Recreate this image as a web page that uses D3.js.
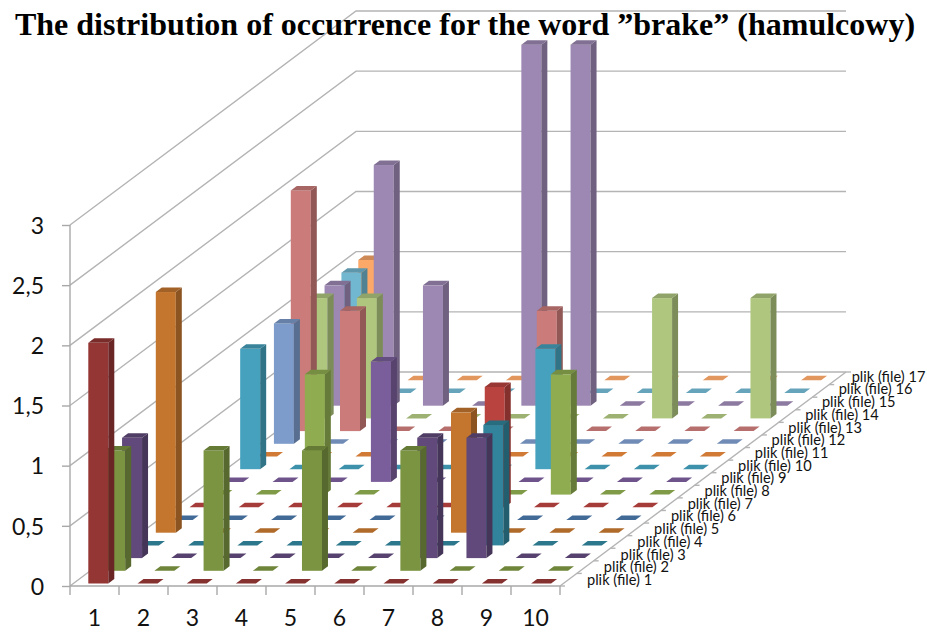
<!DOCTYPE html>
<html>
<head>
    <title>The distribution of occurrence for the word "brake"</title>
    <script src="https://d3js.org/d3.v7.min.js"></script>
    <style>
        body { margin: 0; background: #fff; }
        svg { display: block; }
        .grid { stroke: #b4b4b4; stroke-width: 1.4; fill: none; }
        .axis-label { font-family: Lato, sans-serif; fill: #111; }
        .tick line, .domain { stroke: #a8a8a8; stroke-width: 1.4; }
    </style>
</head>
<body>
    <div id="vis-container"></div>

    <script>
        const width = 927;
        const height = 634;

        const titleText = 'The distribution of occurrence for the word ”brake” (hamulcowy)';
        const categories = [1, 2, 3, 4, 5, 6, 7, 8, 9, 10];
        const files = d3.range(1, 18).map(i => `plik (file) ${i}`);
        const valueTicks = [0, 0.5, 1, 1.5, 2, 2.5, 3];

        // one array per file, values for categories 1..10
        const file1 = [2, 0, 0, 0, 0, 0, 0, 0, 0, 0];
        const file2 = [1, 0, 1, 0, 1, 0, 1, 0, 0, 0];
        const file3 = [1, 0, 0, 0, 0, 0, 1, 1, 0, 0];
        const file4 = [0, 0, 0, 0, 0, 0, 0, 1, 0, 0];
        const file5 = [2, 0, 0, 0, 0, 0, 1, 0, 0, 0];
        const file6 = [0, 0, 0, 0, 0, 0, 0, 0, 0, 0];
        const file7 = [0, 0, 0, 0, 0, 0, 1, 0, 0, 0];
        const file8 = [0, 0, 1, 0, 0, 0, 0, 1, 0, 0];
        const file9 = [0, 0, 0, 1, 0, 0, 0, 0, 0, 0];
        const file10 = [1, 0, 0, 0, 0, 0, 1, 0, 0, 0];
        const file11 = [0, 0, 0, 0, 0, 0, 0, 0, 0, 0];
        const file12 = [1, 0, 0, 0, 0, 0, 0, 0, 0, 0];
        const file13 = [2, 1, 0, 0, 0, 1, 0, 0, 0, 0];
        const file14 = [1, 1, 0, 0, 0, 0, 0, 1, 0, 1];
        const file15 = [1, 2, 1, 0, 3, 3, 0, 0, 0, 0];
        const file16 = [1, 0, 0, 0, 0, 0, 0, 0, 0, 0];
        const file17 = [1, 0, 0, 0, 0, 0, 0, 0, 0, 0];
        const fileValues = [file1, file2, file3, file4, file5, file6, file7, file8, file9,
            file10, file11, file12, file13, file14, file15, file16, file17];

        // front colour per file, side and top faces are shades of it
        const frontColors = ['#943634', '#7a9441', '#614a7b', '#31849b', '#c4762f', '#4a76a8', '#b9433f', '#8fad50', '#7a5e9b',
            '#45a1bd', '#e8883c', '#7d9ccb', '#cb7b79', '#afc67f', '#9d88b3', '#72b7d0', '#fba869'];
        const sideColors = frontColors.map(c => d3.color(c).darker(0.95).formatHex());
        const topColors = frontColors.map(c => d3.color(c).darker(0.55).formatHex());
        const zeroColors = frontColors.map(c => d3.color(c).darker(0.3).formatHex());

        const svg = d3.select('#vis-container')
            .append('svg')
            .attr('width', width)
            .attr('height', height)
            .attr('viewBox', [0, 0, width, height]);

        // oblique projection: depth runs up and to the right
        const x = d3.scaleBand().domain(categories).range([70, 560]);
        const y = d3.scaleLinear().domain([0, 3]).range([586, 225]);
        const depthX = d3.scaleLinear().domain([0, 1]).range([0, 286]);
        const depthY = d3.scaleLinear().domain([0, 1]).range([0, 214]);

        // bars sit a little inside their floor cell
        const barX = d3.scaleLinear().domain([1, 10]).range([88.3, 531.1]);
        const fileX = d3.scaleLinear().domain([1, 17]).range([0, 270]);
        const fileY = d3.scaleLinear().domain([1, 17]).range([583.5, 380.3]);
        const barW = 20;
        const barDx = 6;
        const barDy = 4.5;

        const gridG = svg.append('g');
        const g3 = valueTicks.map(v => y(v));

        // left wall and back wall gridlines
        gridG.selectAll('path.grid')
            .data(g3)
            .join('path')
            .attr('class', 'grid')
            .attr('d', d => `M70,${d}L${70 + depthX(1)},${d - depthY(1)}L${560 + depthX(1)},${d - depthY(1)}`);

        // right edge of the floor with its small ticks
        gridG.append('line')
            .attr('class', 'grid')
            .attr('x1', 560).attr('y1', y(0))
            .attr('x2', 560 + depthX(1)).attr('y2', y(0) - depthY(1));
        gridG.selectAll('line.depth-tick')
            .data(d3.range(0, 18))
            .join('line')
            .attr('class', 'grid depth-tick')
            .attr('x1', d => 560 + depthX(d / 17))
            .attr('y1', d => y(0) - depthY(d / 17))
            .attr('x2', d => 560 + depthX(d / 17) + 5)
            .attr('y2', d => y(0) - depthY(d / 17));

        // axes
        svg.append('g')
            .attr('transform', 'translate(70,0)')
            .call(d3.axisLeft(y)
                .tickValues(valueTicks)
                .tickSize(8)
                .tickPadding(18)
                .tickFormat(d => String(d).replace('.', ',')))
            .call(g => g.select('.domain').attr('d', `M0,${y(3)}V${y(0)}`))
            .call(g => g.selectAll('text')
                .attr('class', 'axis-label')
                .style('font-size', '23px')
                .attr('dy', '0.36em'));

        svg.append('g')
            .attr('transform', `translate(0,${y(0)})`)
            .call(d3.axisBottom(x).tickSize(0).tickPadding(24))
            .call(g => g.select('.domain').attr('d', 'M70,0H560'))
            .call(g => g.selectAll('text')
                .attr('class', 'axis-label')
                .style('font-size', '23px'));

        svg.append('g')
            .selectAll('line')
            .data(categories.map(c => x(c)).concat(x.range()[1]))
            .join('line')
            .attr('stroke', '#a8a8a8')
            .attr('stroke-width', 1.4)
            .attr('x1', d => d).attr('x2', d => d)
            .attr('y1', y(0)).attr('y2', y(0) + 9);

        // file labels along the right floor edge
        const labelX = d3.scaleLinear().domain([1, 16, 17]).range([587, 838.7, 851.7]);
        const labelY = d3.scaleLinear().domain([1, 17]).range([585, 381.7]);
        svg.append('g')
            .selectAll('text')
            .data(files)
            .join('text')
            .attr('class', 'axis-label')
            .style('font-size', '14.6px')
            .attr('x', (d, i) => labelX(i + 1))
            .attr('y', (d, i) => labelY(i + 1))
            .text(d => d);

        // flatten to cells, back rows first so the front rows paint over them
        const cells = [];
        for (let f = files.length; f >= 1; f--) {
            categories.forEach((c, i) => {
                cells.push({ file: f, cat: c, value: fileValues[f - 1][i] });
            });
        }

        const bars = svg.append('g')
            .selectAll('g')
            .data(cells)
            .join('g')
            .attr('transform', d => `translate(${barX(d.cat) + fileX(d.file)},${fileY(d.file)})`);

        // zero cells draw only the flat top
        bars.filter(d => d.value > 0).append('rect')
            .attr('x', 0)
            .attr('width', barW)
            .attr('y', d => y(d.value) - y(0))
            .attr('height', d => y(0) - y(d.value))
            .attr('fill', d => frontColors[d.file - 1]);

        bars.filter(d => d.value > 0).append('path')
            .attr('fill', d => sideColors[d.file - 1])
            .attr('d', d => {
                const h = y(0) - y(d.value);
                return `M${barW},0V${-h}l${barDx},${-barDy}V${-barDy}Z`;
            });

        bars.append('path')
            .attr('fill', d => (d.value > 0 ? topColors : zeroColors)[d.file - 1])
            .attr('d', d => {
                const h = y(0) - y(d.value);
                return `M0,${-h}H${barW}l${barDx},${-barDy}H${barDx}Z`;
            });

        // title goes over the top gridline
        svg.append('text')
            .attr('x', 465)
            .attr('y', 35)
            .attr('text-anchor', 'middle')
            .style('font-family', '"Liberation Serif", serif')
            .style('font-weight', 'bold')
            .style('font-size', '32px')
            .attr('fill', '#000')
            .text(titleText);
    </script>
</body>
</html>
